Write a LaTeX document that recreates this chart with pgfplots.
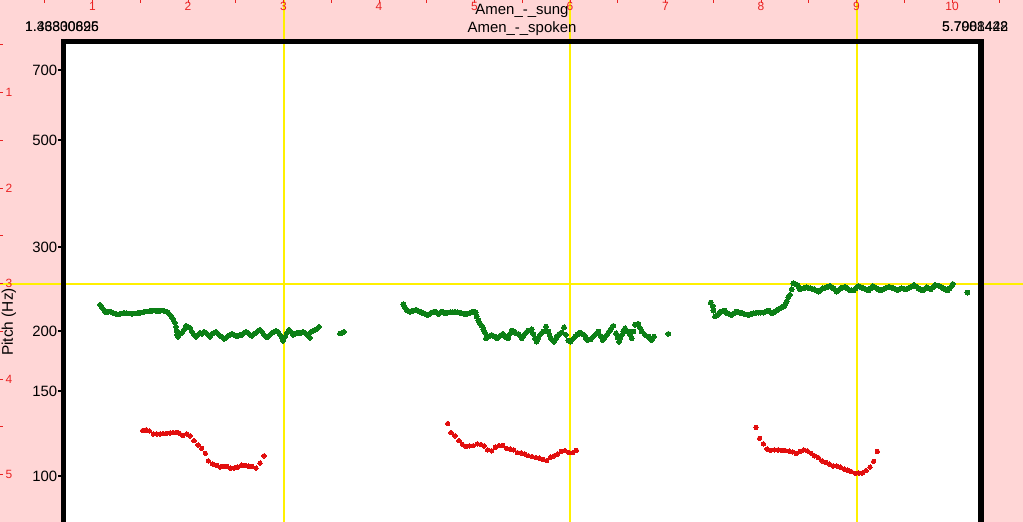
\documentclass[border=0pt]{standalone}
\usepackage{pgfplots}
\pgfplotsset{compat=1.18}
\usepackage{fontspec}
\setmainfont{Liberation Sans}
\pgfplotsset{set layers}
\definecolor{bgpink}{RGB}{255,214,214}
\definecolor{tickred}{RGB}{235,35,35}
\definecolor{gridyellow}{RGB}{255,240,0}
\definecolor{ptgreen}{RGB}{12,128,22}
\definecolor{ptred}{RGB}{226,14,14}
\begin{document}
\begin{tikzpicture}
% ---------- outer frame: pink background, red unit scale, yellow lines ----------
\begin{axis}[
  at={(0,0)}, anchor=south west,
  width=1023bp, height=522bp, scale only axis,
  xmin=0, xmax=1023, ymin=0, ymax=522,
  axis background/.style={fill=bgpink},
  axis line style={draw=none},
  xtick pos=right, ytick pos=left,
  xticklabel pos=right, yticklabel pos=left,
  tick align=inside,
  major tick length=3bp, minor tick length=3bp,
  every tick/.style={tickred, line width=0.8bp},
  xtick={92.5,188,283.5,379,474.5,570,665.5,761,856.5,952},
  xticklabels={1,2,3,4,5,6,7,8,9,10},
  minor xtick={44.75,140.25,235.75,331.25,426.75,522.25,617.75,713.25,808.75,904.25,999.75},
  ytick={429.5,334,238.5,143,47.5},
  yticklabels={1,2,3,4,5},
  minor ytick={477.25,381.75,286.25,190.75,95.25},
  xticklabel style={anchor=north, inner sep=0.5bp, yshift=-1.5bp, text=tickred, font=\fontsize{12}{12}\selectfont},
  yticklabel style={anchor=west, inner sep=0.5bp, xshift=5bp, text=tickred, font=\fontsize{12}{12}\selectfont},
  clip=false,
]
\begin{pgfonlayer}{axis grid}
\draw[gridyellow, line width=1.5bp] (axis cs:284,0) -- (axis cs:284,522);
\draw[gridyellow, line width=1.5bp] (axis cs:570,0) -- (axis cs:570,522);
\draw[gridyellow, line width=1.5bp] (axis cs:857,0) -- (axis cs:857,522);
\draw[gridyellow, line width=1.5bp] (axis cs:0,238) -- (axis cs:1023,238);
\end{pgfonlayer}
\node[anchor=base, font=\fontsize{15}{15}\selectfont] at (axis cs:522,507.5) {Amen\_-\_sung};
\node[anchor=base, font=\fontsize{15}{15}\selectfont] at (axis cs:522,489.5) {Amen\_-\_spoken};
\node[anchor=base west, inner sep=0pt, font=\fontsize{14}{14}\selectfont] at (axis cs:25,490) {1.43830896};
\node[anchor=base west, inner sep=0pt, font=\fontsize{14}{14}\selectfont] at (axis cs:25,490) {1.36300625};
\node[anchor=base west, inner sep=0pt, font=\fontsize{14}{14}\selectfont] at (axis cs:942,490) {5.7908442};
\node[anchor=base west, inner sep=0pt, font=\fontsize{14}{14}\selectfont] at (axis cs:942,490) {5.7081428};
\node[rotate=90, anchor=center, font=\fontsize{15.5}{15.5}\selectfont] at (axis cs:9,200) {Pitch (Hz)};
\end{axis}
% ---------- main pitch axis ----------
\begin{axis}[
  at={(63.5bp,-38bp)}, anchor=south west,
  width=917.5bp, height=518.7bp, scale only axis,
  xmin=63.5, xmax=981,
  ymode=log, ymin=66.8, ymax=804.6,
  axis background/.style={fill=white},
  axis line style={line width=5.5bp, black},
  xtick=\empty,
  ytick={100,150,200,300,500,700},
  yticklabels={100,150,200,300,500,700},
  ytick pos=left, tick align=outside,
  major tick length=5bp,
  every tick/.style={line width=2bp, black},
  yticklabel style={font=\fontsize{15}{15}\selectfont, inner sep=1bp},
]
% sung (green)
\addplot[only marks, mark=*, mark size=2.4bp, color=ptgreen, mark options={line width=0pt}] coordinates {
(100,227.1)(101.5,224.9)(103,222.8)(104.5,220.7)(106,219.1)(108,219.6)(110,220.1)(112,219.1)(114,218.0)(116,217.5)
(118,217.0)(120,217.5)(122,218.0)(124,218.6)(126,218.2)(128,218.0)(130,218.0)(132,217.5)(134,218.0)(136,218.0)
(138,218.6)(140,218.6)(142,219.1)(144,219.6)(146,220.1)(148,220.1)(150,220.7)(152,221.0)(154,221.2)(156,221.0)
(158,221.0)(160,221.0)(162,221.2)(164,220.7)(166,220.1)(168,219.1)(170,216.5)(172,213.9)(173.5,211.4)(175,208.3)
(176,204.4)(176.5,200.5)(177,196.7)(178,194.8)(178,199.6)(180,197.7)(182,198.6)(184,201.5)(186,205.4)(188,204.4)
(190,203.4)(192,199.6)(194,196.7)(196,194.8)(198,196.7)(200,198.6)(202,197.7)(204,199.6)(206,198.6)(208,196.7)
(210,194.8)(212,197.7)(214,198.6)(216,199.6)(218,197.7)(220,195.8)(222,194.8)(224,193.0)(226,193.9)(228,195.8)
(230,196.7)(232,197.7)(234,196.7)(236,195.8)(238,195.8)(240,196.7)(242,196.7)(244,198.6)(246,199.6)(248,198.6)
(250,196.7)(252,195.8)(254,197.7)(256,198.6)(258,200.5)(260,201.5)(262,199.6)(264,196.7)(266,194.8)(268,194.8)
(270,196.7)(272,198.6)(274,199.6)(276,200.5)(278,199.6)(280,196.7)(282,193.9)(283,191.1)(285,194.8)(287,198.6)
(289,201.5)(291,199.6)(293,196.7)(295,197.7)(297,198.6)(299,198.6)(301,198.6)(303,199.6)(305,198.6)(307,196.7)
(309,194.8)(310,193.9)(311,199.6)(313,200.5)(315,201.5)(317,202.4)(319,204.4)
(340,198.0)(342,198.6)(344,199.6)
(403.3,227.9)(405,224.6)(406.7,221.7)(408.3,220.7)(410,219.9)(411.7,220.7)(413.3,221.0)(415,221.4)(416.7,221.7)(418.3,220.7)
(420,219.9)(421.7,219.1)(423.3,218.2)(425.3,217.5)(427.3,216.5)(429.5,217.5)(431.7,218.9)(433.3,219.6)(435,219.9)(436.7,218.8)
(438.3,217.5)(440,218.6)(441.7,219.9)(443.3,219.1)(445,218.2)(447.5,218.8)(450,219.3)(452.5,219.6)(455,219.6)(457.5,219.3)
(460,218.9)(462.5,218.0)(465,217.2)(467,217.5)(469.3,218.2)(471.3,219.1)(473.3,219.9)(475.7,218.9)(476.7,214.8)(478.3,210.7)
(480,208.0)(481.7,205.4)(483.3,202.1)(485,198.9)(486,193.6)(487,195.8)(488.3,195.1)(490,195.8)(491.7,196.7)(493.3,195.8)
(495,195.1)(497.3,193.6)(500,195.8)(502.7,197.7)(505,195.1)(506.7,194.4)(508.3,193.6)(510,197.7)(511.7,200.8)(513.3,200.0)
(515,198.9)(518.3,197.7)(520,195.8)(521.7,193.6)(523.3,195.8)(525,197.7)(526.7,199.6)(528.3,200.8)(531.7,202.1)(533.3,197.7)
(535,193.6)(536.7,190.4)(538.3,193.9)(540,196.7)(541.7,198.6)(543.3,199.9)(546,204.7)(548.3,199.9)(549.5,196.7)(550.7,193.6)
(552.3,192.0)(554,190.4)(555.7,193.0)(557.3,195.8)(559.5,197.7)(561.7,198.9)(564,204.1)(566,196.7)(568.3,191.4)(570.7,190.4)
(573,193.0)(575,195.1)(577.5,197.2)(580,198.9)(582,197.7)(584,196.7)(585.7,194.4)(587.3,192.0)(590.7,192.7)(593,194.8)
(595,196.7)(596.7,198.3)(598.3,199.9)(600.5,195.8)(602.7,192.0)(604.7,194.4)(606.7,196.7)(608.7,199.6)(610.7,202.1)(613.3,205.4)
(616,198.3)(617.5,194.4)(619,190.4)(620.3,193.9)(621.7,196.7)(623.3,200.0)(625,203.1)(628.3,199.9)(630,196.7)(631.7,193.6)
(633.3,200.0)(635,206.6)(638.3,207.5)(640,203.4)(641.7,199.9)(645,196.7)(648.3,195.1)(650,193.6)(651.7,192.0)(654,195.1)
(668.3,197.7)
(710.7,229.6)(712.7,226.0)(713.3,221.0)(715,214.8)(717.3,216.5)(719,218.2)(720.7,219.9)(722.5,220.4)(724.3,221.0)(725.8,219.6)
(727.3,218.2)(729.5,217.3)(731.7,216.5)(734,218.2)(736,219.9)(738,219.4)(740,218.9)(742,218.2)(744,217.5)(746,217.0)
(748.3,216.5)(750.8,217.3)(753.3,218.2)(755.8,218.6)(758.3,218.9)(760.8,218.9)(763.3,218.9)(765.8,219.9)(768.3,221.0)(770,219.6)
(771.7,218.2)(773.3,219.1)(775,219.9)(776.7,221.2)(778.3,222.5)(780,223.5)(781.7,224.6)(783,225.2)(784.3,226.0)(785.5,228.2)
(786.7,230.8)(788.3,235.7)(790,238.3)(791.7,244.9)(793.3,252.0)(795,251.2)(797.3,250.0)(798.5,247.6)(800,244.9)(801.7,245.5)
(803.3,246.0)(805,246.6)(806.7,247.2)(808.3,246.6)(810,246.0)(812,245.5)(814,244.9)(816,243.5)(818.3,242.1)(820.5,244.1)
(822.7,246.0)(824.7,246.6)(826.7,247.2)(828.3,248.0)(830,248.8)(831.7,247.5)(833.3,246.0)(835,244.1)(836.7,242.1)(838.7,244.1)
(840.7,246.0)(842.8,246.9)(845,247.8)(847.2,246.0)(849.3,244.1)(851.3,243.7)(853.3,243.3)(855.8,246.0)(858.3,248.8)(860.8,247.5)
(863.3,246.0)(865.8,244.7)(868.3,243.3)(870.5,246.0)(872.7,248.8)(874.7,247.5)(876.7,246.0)(878.7,244.7)(880.7,243.3)(883,244.7)
(885,246.0)(887.2,246.9)(889.3,247.8)(891.3,246.9)(893.3,246.0)(895.3,245.1)(897.3,244.1)(899.5,245.1)(901.7,246.0)(904,245.5)
(906,244.9)(908,246.0)(910,247.2)(912,248.5)(914,250.0)(916,248.0)(918.3,246.0)(920.5,244.7)(922.7,243.3)(924.7,245.3)
(926.7,247.2)(928.7,246.0)(930.7,244.9)(933,247.5)(935,250.0)(937,249.4)(939.3,248.8)(941.3,247.5)(943.3,246.0)(945.3,244.7)
(947.3,243.3)(949.5,246.0)(951.7,248.8)(952.7,251.2)
(967.3,240.9)
};
% spoken (red)
\addplot[only marks, mark=*, mark size=2.2bp, color=ptred, mark options={line width=0pt}] coordinates {
(142.7,124.3)(146,124.7)(149.3,124.1)(153.3,122.3)(156.7,122.3)(160,122.3)(163.3,122.5)(166.7,122.7)(170,122.9)(173.3,123.1)
(176.7,123.3)(179.3,122.7)(182.7,121.3)(186.7,122.3)(190,121.2)(194,118.4)(198,116.0)(201.7,114.2)(205.3,111.5)(208.3,107.5)
(212.7,105.9)(216.7,105.1)(220,104.3)(223.3,104.6)(226.7,104.6)(230.7,103.8)(234,103.8)(237.3,104.3)(241.7,105.3)(245,105.1)
(248.3,104.8)(251.7,104.6)(256,103.8)(260,106.3)(264,110.1)
(447.7,128.5)(451,123.1)(455,121.2)(459,118.4)(462.3,116.4)(466,115.1)(469.3,115.5)(473.3,115.6)(477.3,116.6)(480.7,116.2)
(484,115.5)(487.7,113.3)(491.7,112.8)(495.3,114.8)(499,115.6)(502.7,115.8)(506.3,114.2)(510,113.8)(513.7,113.3)(517.3,111.8)
(521,111.7)(524.7,111.1)(528.3,110.2)(532,109.7)(535.7,109.2)(539.3,108.9)(543,108.3)(546.7,107.6)(550.7,109.4)(554,110.1)
(557.7,111.1)(561.3,112.4)(565,112.9)(568.7,111.8)(572.7,111.8)(576.3,113.1)
(756,126.3)(759.7,119.8)(763.3,116.6)(767,113.8)(770.7,113.1)(774.3,113.3)(778,113.3)(781.7,113.1)(785.3,112.9)(789,112.6)
(792.7,112.2)(796.3,111.3)(800,112.4)(803.7,113.3)(807.3,112.8)(811,111.5)(814.7,110.1)(818.3,109.2)(822,107.5)(825.7,106.8)
(829.3,105.9)(833,104.9)(836.7,104.9)(840.3,104.3)(844,103.3)(847.7,102.8)(851.3,102.1)(855,101.3)(858.7,101.4)(862.3,101.4)
(866,102.6)(870,104.3)(873.7,107.3)(877.3,112.4)
};
\end{axis}
\pgfresetboundingbox
\path[use as bounding box] (0,0) rectangle (1023bp,522bp);
\end{tikzpicture}
\end{document}
